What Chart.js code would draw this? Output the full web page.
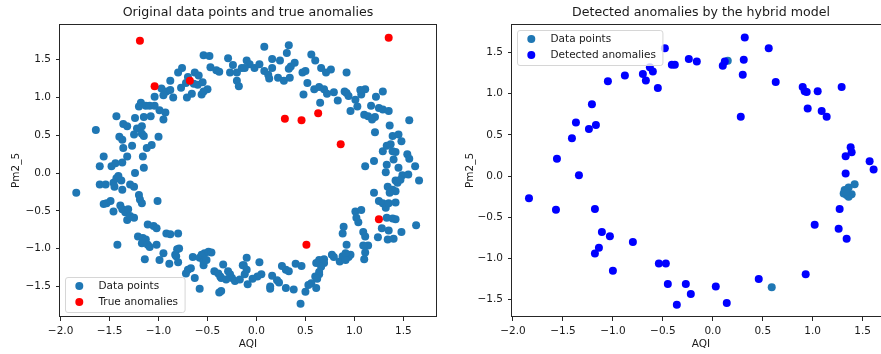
<!DOCTYPE html>
<html>
<head>
<meta charset="utf-8">
<title>Anomaly scatter plots</title>
<script src="https://cdn.jsdelivr.net/npm/chart.js@4.4.1/dist/chart.umd.min.js"></script>
<style>
    html, body { margin: 0; padding: 0; width: 881px; height: 354px; overflow: hidden; background: #fff; }
    canvas { position: absolute; top: 0; }
    #originalChart { left: 0; }
    #detectedChart { left: 440px; }
</style>
</head>
<body>
<canvas id="originalChart" width="440" height="354"></canvas>
<canvas id="detectedChart" width="460" height="354"></canvas>
<script>
// [AQI, Pm2_5] pairs
const dataPoints = [
    [-0.54,1.56],[-0.48,1.55],[-0.29,1.52],[-0.10,1.49],[-0.76,1.39],[-0.80,1.33],[-0.47,1.40],[-0.41,1.36],[-0.38,1.34],[-0.24,1.43],
    [-0.27,1.33],[-0.20,1.33],[-0.15,1.39],[-0.63,1.33],[-0.59,1.29],[-0.88,1.22],[-0.70,1.27],[-0.72,1.19],[-0.64,1.18],[-0.60,1.17],
    [-0.55,1.20],[-0.50,1.11],[-0.77,1.13],[-0.97,1.12],[-0.92,1.08],[-0.88,1.10],[-0.95,1.03],[-1.04,1.01],[-0.85,1.00],[-0.71,1.00],
    [-0.66,1.05],[-0.56,1.04],[-0.54,1.08],[-0.20,1.22],[-0.18,1.15],[-1.18,0.93],[-1.20,0.88],[-1.13,0.89],[-1.09,0.89],[-1.04,0.89],
    [-0.99,0.83],[-0.93,0.80],[-0.95,0.71],[-1.43,0.75],[-1.24,0.73],[-1.15,0.74],[-1.08,0.75],[-1.64,0.57],[-1.36,0.65],[-1.32,0.62],
    [-1.22,0.59],[-1.17,0.62],[-1.25,0.51],[-1.17,0.52],[-1.15,0.49],[-1.40,0.48],[-1.37,0.44],[-1.00,0.48],[-1.36,0.33],[-1.27,0.36],
    [-1.12,0.33],[-1.07,0.37],[-1.56,0.22],[-1.32,0.22],[-1.16,0.22],[-1.60,0.09],[-1.48,0.09],[-1.44,0.13],[-1.37,0.14],[-1.15,0.07],
    [0.08,1.67],[0.33,1.69],[0.31,1.59],[-0.07,1.44],[-0.12,1.39],[-0.02,1.39],[0.03,1.44],[0.08,1.35],[0.12,1.30],[0.13,1.25],
    [0.16,1.51],[0.16,1.39],[0.24,1.49],[0.22,1.26],[0.28,1.22],[0.34,1.26],[0.35,1.41],[0.39,1.46],[0.33,1.38],[0.47,1.33],
    [0.50,1.35],[0.52,1.19],[0.56,1.57],[0.60,1.49],[0.66,1.39],[0.71,1.33],[0.76,1.37],[0.92,1.33],[0.48,1.04],[0.59,1.11],
    [0.64,1.14],[0.69,1.11],[0.72,1.05],[0.79,1.07],[0.65,0.93],[0.83,0.96],[0.90,1.08],[0.92,1.06],[0.94,1.02],[1.01,0.97],
    [0.96,0.82],[1.03,0.88],[1.07,1.04],[1.11,1.11],[1.06,1.10],[1.10,0.77],[1.14,0.75],[1.17,0.89],[1.22,1.01],[1.29,1.08],
    [1.25,0.86],[1.29,0.84],[1.35,0.82],[1.21,0.74],[1.18,0.71],[1.56,0.70],[1.36,0.63],[1.39,0.49],[1.45,0.51],[1.48,0.42],
    [1.21,0.54],[1.29,0.29],[1.33,0.36],[1.37,0.38],[1.39,0.29],[1.42,0.28],[1.54,0.25],[1.56,0.19],[1.62,0.09],[1.11,0.09],
    [1.20,0.16],[1.33,0.11],[1.40,0.18],[1.45,0.07],
    [1.32,0.01],[1.49,-0.03],[1.55,-0.02],[1.66,-0.10],[1.42,-0.10],[1.34,-0.18],[1.39,-0.22],[1.42,-0.24],[1.36,-0.26],[1.44,-0.13],
    [1.47,-0.09],[1.20,-0.26],[1.25,-0.37],[1.29,-0.40],[1.32,-0.46],[1.35,-0.40],[1.42,-0.39],[1.33,-0.59],[1.39,-0.60],[1.42,-0.61],
    [1.28,-0.73],[1.35,-0.76],[1.48,-0.78],[1.63,-0.69],[1.24,-0.85],[1.34,-0.88],[1.40,-0.87],[1.01,-0.51],[1.07,-0.49],[1.02,-0.59],
    [1.04,-0.65],[0.89,-0.71],[0.88,-0.80],[0.92,-0.95],[1.09,-0.78],[1.11,-0.84],[1.14,-0.96],[1.09,-0.96],[1.11,-1.05],[1.10,-1.14],
    [0.77,-1.08],[0.79,-1.11],[0.69,-1.14],[0.64,-1.15],[0.61,-1.19],[0.69,-1.19],[0.66,-1.24],[0.64,-1.34],[0.60,-1.37],[0.64,-1.31],
    [0.62,-1.40],[0.56,-1.46],[0.53,-1.48],[0.61,-1.52],[0.50,-1.57],[0.45,-1.73],[0.38,-1.54],[0.46,-1.23],[0.40,-1.20],[0.30,-1.28],
    [0.33,-1.30],[0.26,-1.23],[0.30,-1.52],[0.21,-1.42],[0.23,-1.45],[0.16,-1.36],[0.14,-1.50],[0.14,-1.53],[0.03,-1.18],[0.05,-1.34],
    [0.01,-1.37],[-0.04,-1.40],[-0.09,-1.47],[-0.10,-1.12],[-0.13,-1.22],[0.85,-1.17],[0.88,-1.10],[0.94,-1.11],[0.96,-1.08],[0.91,-1.06],
    [0.91,-1.15],
    [-1.84,-0.26],[-1.60,-0.15],[-1.54,-0.15],[-1.46,-0.13],[-1.43,-0.07],[-1.41,-0.04],[-1.38,-0.10],[-1.37,-0.22],[-1.45,-0.18],[-1.29,-0.15],
    [-1.25,-0.18],[-1.24,0.00],[-1.20,-0.29],[-1.19,-0.35],[-1.17,-0.40],[-1.01,-0.37],[-1.56,-0.41],[-1.53,-0.40],[-1.49,-0.37],[-1.46,-0.51],
    [-1.39,-0.43],[-1.37,-0.48],[-1.34,-0.52],[-1.31,-0.48],[-1.32,-0.62],[-1.29,-0.57],[-1.25,-0.59],[-1.42,-0.95],[-1.21,-0.84],[-1.11,-0.68],
    [-1.05,-0.70],[-1.02,-0.73],[-1.16,-0.86],[-1.13,-0.88],[-1.17,-0.93],[-1.11,-0.95],[-1.09,-0.98],[-1.02,-0.95],[-1.14,-1.14],[-0.99,-1.15],
    [-0.92,-0.80],[-0.88,-0.81],[-0.80,-0.80],[-0.81,-1.01],[-0.79,-1.00],[-0.83,-1.08],[-0.82,-1.10],[-0.89,-1.20],[-0.80,-1.18],[-0.95,-1.06],
    [-0.72,-1.33],[-0.70,-1.28],[-0.67,-1.26],[-0.63,-1.39],[-0.65,-1.11],[-0.58,-1.53],[-0.58,-1.12],[-0.56,-1.08],[-0.53,-1.06],[-0.49,-1.04],
    [-0.46,-1.05],[-0.54,-1.22],[-0.54,-1.17],[-0.51,-1.15],[-0.43,-1.30],[-0.39,-1.33],[-0.34,-1.21],[-0.37,-1.37],[-0.36,-1.39],[-0.38,-1.58],
    [-0.36,-1.56],[-0.29,-1.30],[-0.27,-1.34],[-0.25,-1.39],[-0.31,-1.41],[-0.22,-1.43],[-0.17,-1.41],[-0.14,-1.22],[-0.10,-1.28],[-0.12,-1.34]
];

const trueAnomalies = [
    [-1.19,1.75],[-1.04,1.15],[-0.68,1.22],[1.35,1.79],[0.29,0.72],
    [0.46,0.70],[0.63,0.79],[0.86,0.38],[1.25,-0.61],[0.51,-0.95]
];

const detectedAnomalies = [
    [0.32,1.68],[0.56,1.55],[-0.48,1.55],[-0.41,1.35],[-0.38,1.35],[-0.24,1.42],[-0.16,1.39],[0.10,1.34],[0.12,1.39],[0.31,1.41],
    [0.30,1.23],[0.63,1.14],[0.28,0.72],[0.90,1.08],[0.92,1.03],[0.94,1.02],[1.05,1.03],[1.29,1.08],[0.95,0.82],[1.09,0.79],
    [1.14,0.72],[-1.05,1.15],[-0.88,1.22],[-0.70,1.24],[-0.67,1.16],[-0.63,1.32],[-0.60,1.27],[-0.55,1.07],[-1.21,0.87],[-1.37,0.65],
    [-1.17,0.62],[-1.24,0.57],[-1.41,0.46],[-1.56,0.21],[-1.34,0.01],[-1.84,-0.27],[-1.57,-0.41],[-1.18,-0.40],[-1.11,-0.68],[-1.03,-0.73],
    [-0.80,-0.80],[-1.14,-0.87],[-1.18,-0.94],[-1.00,-1.15],[-0.54,-1.06],[-0.47,-1.06],[-0.45,-1.31],[-0.27,-1.31],[-0.22,-1.43],[-0.36,-1.56],
    [0.03,-1.34],[0.14,-1.54],[0.46,-1.25],[0.93,-1.19],[1.02,-0.59],[1.27,-0.40],[1.26,-0.64],[1.34,-0.76],[1.38,0.35],[1.39,0.29],
    [1.33,0.24],[1.33,0.03],[1.57,0.18],[1.61,0.08]
];

const testPoints = [
    [0.15,1.40],[0.59,-1.35],[1.32,-0.17],[1.36,-0.14],[1.42,-0.10],
    [1.34,-0.23],[1.39,-0.22],[1.31,-0.21],[1.36,-0.25],[1.33,-0.19]
];

const xTicks = [-2.0, -1.5, -1.0, -0.5, 0.0, 0.5, 1.0, 1.5];
const yTicks = [-1.5, -1.0, -0.5, 0.0, 0.5, 1.0, 1.5];

const FONT = 'DejaVu Sans';
const INK = '#1a1a1a';
const TEXT_SIZE = 10.5;

function fmtTick(v) {
    const s = Math.abs(v).toFixed(1);
    return v < 0 ? '\u2212' + s : s;
}

function toXY(pairs) {
    return pairs.map(([x, y]) => ({ x, y }));
}

// matplotlib-style box around the axes
const axesFrame = {
    id: 'axesFrame',
    afterDatasetsDraw(chart) {
        const { ctx, chartArea: a } = chart;
        const l = Math.round(a.left) - 0.5, t = Math.round(a.top) + 0.5;
        const r = Math.round(a.right) + 0.5, b = Math.round(a.bottom) - 0.5;
        ctx.save();
        ctx.strokeStyle = '#262626';
        ctx.lineWidth = 1;
        ctx.strokeRect(l, t, r - l, b - t);
        ctx.restore();
    }
};

// legend drawn inside the plot, like matplotlib's
const boxLegend = {
    id: 'boxLegend',
    afterDraw(chart, args, opts) {
        const { ctx, chartArea: a } = chart;
        const items = chart.data.datasets;
        ctx.save();
        ctx.font = TEXT_SIZE + 'px "' + FONT + '"';
        const w = Math.max(...items.map(d => ctx.measureText(d.label).width)) + 40;
        const h = 35;
        const x = a.left + 5;
        const y = opts.corner === 'top' ? a.top + 6 : a.bottom - 5 - h;
        ctx.beginPath();
        ctx.roundRect(x + 0.5, y + 0.5, w, h, 2.5);
        ctx.fillStyle = 'rgba(255,255,255,0.8)';
        ctx.fill();
        ctx.strokeStyle = '#d6d6d6';
        ctx.lineWidth = 1;
        ctx.stroke();
        items.forEach((d, i) => {
            const cy = y + 9 + i * 16;
            ctx.beginPath();
            ctx.arc(x + 14.3, cy, 4, 0, Math.PI * 2);
            ctx.fillStyle = d.backgroundColor;
            ctx.fill();
            ctx.fillStyle = INK;
            ctx.textBaseline = 'middle';
            ctx.fillText(d.label, x + 33.5, cy);
        });
        ctx.restore();
    }
};

function makeAxis(pos, label, ticks, min, max, size, titlePad) {
    return {
        type: 'linear',
        position: pos,
        min: min,
        max: max,
        afterBuildTicks: s => { s.ticks = ticks.map(v => ({ value: v })); },
        afterFit: s => {
            if (pos === 'bottom') s.height = size; else s.width = size;
        },
        ticks: {
            autoSkip: false,
            maxRotation: 0,
            padding: pos === 'bottom' ? 3.5 : 5,
            color: INK,
            font: { family: FONT, size: TEXT_SIZE },
            callback: v => fmtTick(v)
        },
        grid: { drawOnChartArea: false, drawTicks: true, tickLength: 4, color: '#262626' },
        border: { display: false },
        title: {
            display: true,
            text: label,
            color: INK,
            font: { family: FONT, size: TEXT_SIZE },
            padding: pos === 'bottom' ? { top: 0, bottom: 3 } : { top: titlePad, bottom: 0 }
        }
    };
}

function scatterChart(id, cfg) {
    return new Chart(document.getElementById(id), {
        type: 'scatter',
        data: { datasets: cfg.datasets },
        options: {
            responsive: false,
            animation: false,
            devicePixelRatio: 1,
            layout: { padding: { left: 0, right: cfg.padRight, top: 0, bottom: 0 } },
            plugins: {
                legend: { display: false },
                tooltip: { enabled: false },
                title: {
                    display: true,
                    text: cfg.title,
                    fullSize: false,
                    color: INK,
                    font: { family: FONT, size: 12.6, weight: 'normal' },
                    padding: { top: 5.5, bottom: 3.4 }
                },
                boxLegend: { corner: cfg.legendCorner }
            },
            scales: {
                x: makeAxis('bottom', 'AQI', xTicks, cfg.xRange[0], cfg.xRange[1], 37),
                y: makeAxis('left', 'Pm2_5', yTicks, cfg.yRange[0], cfg.yRange[1], cfg.yAxisWidth, cfg.yTitlePad)
            }
        },
        plugins: [axesFrame, boxLegend]
    });
}

function points(label, pairs, color, order) {
    return {
        label: label,
        data: toXY(pairs),
        backgroundColor: color,
        borderWidth: 0,
        pointRadius: 4,
        pointHoverRadius: 4,
        order: order
    };
}

scatterChart('originalChart', {
    title: 'Original data points and true anomalies',
    datasets: [
        points('Data points', dataPoints, '#1f77b4', 2),
        points('True anomalies', trueAnomalies, '#ff0000', 1)
    ],
    xRange: [-2.006, 1.833],
    yRange: [-1.905, 1.972],
    yAxisWidth: 60,
    yTitlePad: 9.7,
    padRight: 3,
    legendCorner: 'bottom'
});

scatterChart('detectedChart', {
    title: 'Detected anomalies by the hybrid model',
    datasets: [
        points('Data points', testPoints, '#1f77b4', 2),
        points('Detected anomalies', detectedAnomalies, '#0000ff', 1)
    ],
    xRange: [-2.01, 1.774],
    yRange: [-1.71, 1.845],
    yAxisWidth: 72,
    yTitlePad: 23.7,
    padRight: 10,
    legendCorner: 'top'
});
</script>
</body>
</html>
